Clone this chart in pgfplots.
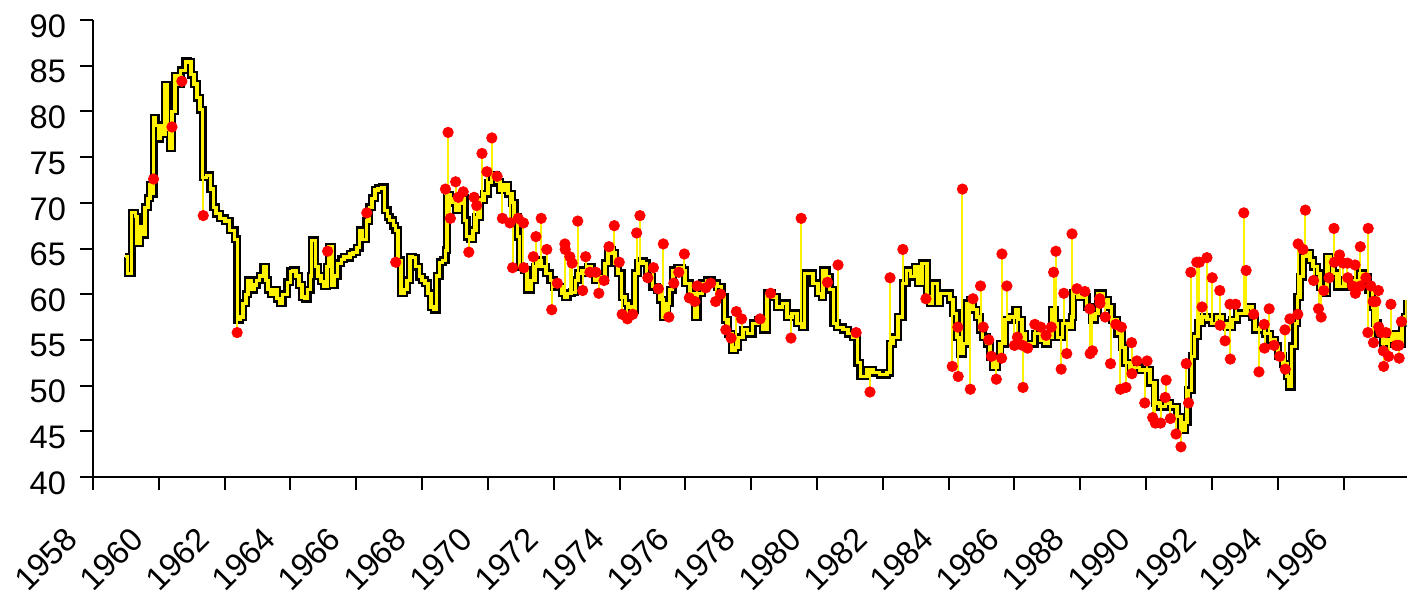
\documentclass[border=0pt]{standalone}
\usepackage{fontspec}
\setmainfont{Liberation Sans}
\usepackage{pgfplots}
\usepackage{pgfplotstable}
\pgfplotsset{compat=1.18}

% cleaned monthly-ish series (step function)
\pgfplotstableread{
year val
1958.97 64.1
1959.06 62.3
1959.18 68.9
1959.28 68.5
1959.34 65.6
1959.43 67.4
1959.52 66.5
1959.58 69.5
1959.67 70.5
1959.73 72.0
1959.79 71.0
1959.85 79.3
1959.91 78.5
1959.98 77.0
1960.04 78.5
1960.10 77.5
1960.19 82.9
1960.25 78.0
1960.34 76.0
1960.40 80.0
1960.49 83.9
1960.58 83.0
1960.67 84.5
1960.80 85.5
1960.89 85.4
1960.98 84.0
1961.07 83.0
1961.16 81.5
1961.25 80.2
1961.33 72.8
1961.46 73.0
1961.56 71.5
1961.65 69.5
1961.74 68.8
1961.86 68.3
1962.01 68.0
1962.16 67.0
1962.31 66.0
1962.38 57.2
1962.47 57.5
1962.56 59.0
1962.65 60.0
1962.71 61.5
1962.80 60.5
1962.89 61.0
1962.98 61.5
1963.07 62.0
1963.17 63.0
1963.26 61.5
1963.32 60.5
1963.41 60.0
1963.50 60.5
1963.59 59.5
1963.68 59.0
1963.77 60.0
1963.90 61.3
1963.99 62.5
1964.08 62.6
1964.17 62.0
1964.26 61.0
1964.35 59.7
1964.44 59.5
1964.53 60.5
1964.62 62.0
1964.65 65.9
1964.75 63.0
1964.84 62.0
1964.93 61.4
1965.02 60.9
1965.11 63.0
1965.17 65.2
1965.26 61.0
1965.35 62.0
1965.44 63.4
1965.54 63.8
1965.63 64.1
1965.72 64.0
1965.81 64.4
1965.90 64.6
1966.02 65.1
1966.11 67.0
1966.20 66.0
1966.30 68.0
1966.39 69.5
1966.48 70.5
1966.57 71.4
1966.66 71.6
1966.78 71.7
1966.87 69.2
1966.96 68.5
1967.02 68.1
1967.12 67.5
1967.18 67.0
1967.27 63.7
1967.36 60.1
1967.45 60.5
1967.54 61.5
1967.63 64.1
1967.72 64.0
1967.81 63.0
1967.91 61.9
1968.00 61.5
1968.09 61.2
1968.18 60.1
1968.27 58.6
1968.36 58.3
1968.45 62.0
1968.54 63.5
1968.63 63.7
1968.72 64.8
1968.76 70.9
1968.85 70.5
1968.94 70.0
1969.03 69.2
1969.12 69.9
1969.21 70.5
1969.30 68.1
1969.36 66.3
1969.46 66.0
1969.55 67.0
1969.64 68.4
1969.76 70.3
1969.88 71.0
1970.00 72.2
1970.12 73.0
1970.25 72.3
1970.37 71.4
1970.49 72.0
1970.61 71.0
1970.73 70.0
1970.82 68.5
1970.91 66.3
1970.97 63.0
1971.10 62.6
1971.19 60.5
1971.31 61.5
1971.43 63.0
1971.52 63.7
1971.64 63.0
1971.76 62.3
1971.89 61.5
1972.01 60.8
1972.13 60.8
1972.25 60.1
1972.34 59.7
1972.43 60.1
1972.55 60.2
1972.65 61.5
1972.74 62.3
1972.86 62.6
1972.95 62.3
1973.04 63.0
1973.16 62.3
1973.25 61.5
1973.34 61.9
1973.47 61.5
1973.56 63.4
1973.65 64.8
1973.77 64.5
1973.86 63.4
1973.95 62.3
1974.07 59.7
1974.17 59.0
1974.26 58.6
1974.38 58.3
1974.47 62.3
1974.56 63.4
1974.65 63.6
1974.74 63.4
1974.83 61.9
1974.99 60.8
1975.14 60.5
1975.23 59.4
1975.32 57.5
1975.44 59.0
1975.53 60.5
1975.62 62.6
1975.75 62.9
1975.90 62.6
1975.99 61.2
1976.14 60.1
1976.29 57.5
1976.38 60.1
1976.51 61.2
1976.66 61.5
1976.81 61.2
1976.96 60.8
1977.11 59.7
1977.20 57.2
1977.30 55.7
1977.42 53.9
1977.51 54.2
1977.60 55.3
1977.75 56.1
1977.90 55.7
1978.05 56.8
1978.21 57.2
1978.36 56.1
1978.48 60.1
1978.63 59.7
1978.78 58.6
1978.94 59.0
1979.09 57.5
1979.24 57.9
1979.39 56.8
1979.54 56.4
1979.63 62.3
1979.79 62.3
1979.88 61.2
1980.03 60.1
1980.15 59.7
1980.18 62.6
1980.30 61.9
1980.39 60.5
1980.49 56.8
1980.61 56.4
1980.79 56.1
1980.94 55.7
1981.09 55.3
1981.22 52.5
1981.31 51.0
1981.52 51.7
1981.70 51.4
1981.91 51.2
1982.13 51.4
1982.22 54.6
1982.31 55.3
1982.46 57.5
1982.61 61.2
1982.73 62.6
1982.83 61.9
1982.98 63.0
1983.07 61.2
1983.19 63.4
1983.28 63.4
1983.34 59.7
1983.43 59.0
1983.52 61.2
1983.65 59.0
1983.74 60.1
1983.89 60.1
1984.04 59.4
1984.13 57.9
1984.25 55.3
1984.34 53.5
1984.44 54.6
1984.56 59.0
1984.65 59.4
1984.74 58.3
1984.86 57.5
1984.95 56.1
1985.04 55.3
1985.16 54.6
1985.26 53.1
1985.35 52.0
1985.47 53.1
1985.56 54.6
1985.71 57.2
1985.86 57.5
1986.02 58.3
1986.11 57.2
1986.23 55.7
1986.32 54.6
1986.47 54.6
1986.62 55.7
1986.78 55.0
1986.93 54.6
1987.02 55.3
1987.14 58.3
1987.23 56.8
1987.32 55.3
1987.47 56.8
1987.63 56.4
1987.75 57.5
1987.78 60.1
1987.93 59.7
1988.08 59.7
1988.20 58.6
1988.36 57.2
1988.45 57.9
1988.54 60.1
1988.69 59.4
1988.84 58.6
1988.96 57.2
1989.12 55.7
1989.27 54.2
1989.36 52.5
1989.51 51.7
1989.66 52.0
1989.81 51.7
1989.97 51.7
1990.12 50.3
1990.27 48.1
1990.42 47.7
1990.58 48.1
1990.73 47.7
1990.94 46.6
1991.06 45.1
1991.18 46.0
1991.27 49.5
1991.39 53.2
1991.48 55.4
1991.58 56.8
1991.70 57.5
1991.85 57.2
1992.00 56.8
1992.15 57.5
1992.31 56.8
1992.46 56.4
1992.61 57.2
1992.76 57.9
1992.91 57.9
1993.07 58.6
1993.22 57.5
1993.31 56.1
1993.46 56.4
1993.61 55.7
1993.77 55.0
1993.92 54.3
1994.01 53.2
1994.16 52.4
1994.28 51.0
1994.34 49.9
1994.43 54.3
1994.53 56.8
1994.59 59.7
1994.68 61.9
1994.77 64.1
1994.89 64.5
1994.98 63.7
1995.07 63.0
1995.20 62.3
1995.29 60.8
1995.38 60.1
1995.50 64.1
1995.59 63.4
1995.68 62.3
1995.80 60.8
1995.89 60.8
1996.05 61.5
1996.20 60.8
1996.35 61.5
1996.50 62.3
1996.65 61.9
1996.75 60.5
1996.87 58.6
1996.96 56.8
1997.05 55.7
1997.20 54.6
1997.35 55.0
1997.51 55.7
1997.66 54.6
1997.78 56.8
1997.87 57.5
1997.92 59.4
}\series

% flagged observations: date, observed value, cleaned value
\pgfplotstableread{
x y b
1959.84 72.6 71.0
1960.40 78.3 78.0
1960.70 83.3 84.0
1961.35 68.6 72.8
1962.38 55.8 57.2
1965.13 64.7 65.0
1966.32 68.9 68.0
1967.20 63.5 64.0
1968.71 71.5 70.9
1968.79 77.7 70.9
1968.86 68.3 70.5
1969.02 72.3 69.5
1969.10 70.6 69.9
1969.25 71.2 70.0
1969.42 64.6 66.3
1969.58 70.6 67.0
1969.66 69.7 68.4
1969.82 75.4 70.5
1969.97 73.4 71.5
1970.12 77.1 73.0
1970.28 72.9 72.3
1970.44 68.3 71.4
1970.67 67.8 71.0
1970.75 62.9 70.0
1970.92 68.3 66.3
1971.08 67.8 63.0
1971.09 62.9 63.0
1971.38 64.1 61.5
1971.46 66.3 63.0
1971.62 68.3 63.7
1971.79 64.9 62.3
1971.94 58.3 61.5
1972.11 61.2 60.8
1972.34 65.5 59.7
1972.35 64.9 59.7
1972.49 64.1 60.1
1972.56 63.4 60.2
1972.73 68.0 61.5
1972.88 60.4 62.6
1972.97 64.1 62.3
1973.10 62.4 63.0
1973.28 62.4 61.5
1973.37 60.1 61.9
1973.53 61.5 61.5
1973.68 65.2 64.8
1973.84 67.5 64.5
1973.99 63.5 62.3
1974.08 57.8 59.7
1974.24 57.3 59.0
1974.40 57.8 58.3
1974.52 66.7 62.3
1974.62 68.6 63.4
1974.86 61.8 61.9
1975.03 62.9 60.8
1975.18 60.6 60.5
1975.33 65.5 57.5
1975.50 57.5 59.0
1975.65 61.2 62.6
1975.80 62.4 62.9
1975.97 64.4 62.6
1976.12 59.6 61.2
1976.29 59.2 57.5
1976.36 60.9 57.5
1976.62 60.7 61.2
1976.77 61.2 61.5
1976.92 59.2 61.2
1977.07 60.0 60.8
1977.23 56.1 57.2
1977.39 55.2 55.7
1977.55 58.1 54.2
1977.71 57.3 55.3
1978.27 57.3 57.2
1978.59 60.1 60.1
1979.21 55.2 57.5
1979.52 68.3 56.4
1980.32 61.3 61.9
1980.64 63.2 56.4
1981.19 55.8 55.3
1981.61 49.3 51.7
1982.22 61.8 54.6
1982.61 64.9 61.2
1983.31 59.5 63.4
1984.11 52.1 59.4
1984.28 56.4 55.3
1984.29 51.0 55.3
1984.42 71.5 53.5
1984.66 49.6 59.4
1984.74 59.5 58.3
1984.97 60.9 56.1
1985.05 56.4 55.3
1985.22 55.0 54.6
1985.30 53.2 53.1
1985.45 50.7 52.0
1985.61 53.0 54.6
1985.62 64.4 54.6
1985.77 60.9 57.2
1986.00 54.4 57.5
1986.09 55.3 58.3
1986.25 54.4 55.7
1986.26 49.8 55.7
1986.40 54.1 54.6
1986.62 56.7 55.7
1986.80 56.4 55.0
1986.96 55.5 54.6
1987.12 56.4 55.3
1987.19 62.4 58.3
1987.26 64.7 56.8
1987.42 51.8 55.3
1987.50 60.1 56.8
1987.59 53.5 56.8
1987.75 66.6 57.5
1987.90 60.6 60.1
1988.14 60.3 59.7
1988.29 58.4 58.6
1988.30 53.5 58.6
1988.37 53.8 57.2
1988.59 59.5 60.1
1988.60 59.0 60.1
1988.76 57.5 59.4
1988.92 52.4 58.6
1989.08 56.7 57.2
1989.22 49.6 55.7
1989.25 56.4 55.7
1989.39 49.8 52.5
1989.56 54.7 51.7
1989.57 51.3 51.7
1989.72 52.7 52.0
1989.96 48.1 51.7
1990.03 52.7 51.7
1990.20 46.5 50.3
1990.28 45.9 48.1
1990.44 45.9 47.7
1990.58 48.7 48.1
1990.61 50.6 48.1
1990.74 46.4 47.7
1990.91 44.7 47.7
1991.06 43.3 45.1
1991.22 52.4 46.0
1991.29 48.1 49.5
1991.36 62.4 49.5
1991.54 63.5 55.4
1991.62 63.5 56.8
1991.70 58.6 57.5
1991.85 64.0 57.2
1992.01 61.8 56.8
1992.24 60.4 57.5
1992.25 56.6 57.5
1992.40 54.9 56.8
1992.55 58.9 56.4
1992.56 52.9 56.4
1992.72 58.9 57.2
1992.97 68.9 57.9
1993.04 62.6 57.9
1993.27 57.8 57.5
1993.43 51.5 56.1
1993.59 56.7 56.4
1993.60 54.1 56.4
1993.74 58.4 55.7
1993.89 54.4 55.0
1994.06 53.2 53.2
1994.22 56.1 52.4
1994.23 51.8 52.4
1994.37 57.3 56.0
1994.61 57.8 59.7
1994.62 65.5 59.7
1994.77 64.9 64.1
1994.84 69.2 64.1
1995.09 61.5 63.0
1995.24 58.4 62.3
1995.32 57.5 60.8
1995.40 60.4 60.1
1995.56 61.8 64.1
1995.71 67.2 62.3
1995.72 63.5 62.3
1995.88 64.3 60.8
1995.99 63.4 60.8
1996.12 63.4 61.5
1996.13 61.8 61.5
1996.27 60.9 60.8
1996.35 63.2 61.5
1996.36 60.1 61.5
1996.51 65.2 62.3
1996.52 60.9 62.3
1996.68 61.8 61.9
1996.74 55.8 60.5
1996.75 67.2 60.5
1996.83 60.9 60.5
1996.90 59.2 58.6
1996.91 54.7 58.6
1996.98 59.2 56.8
1997.06 60.4 55.7
1997.07 56.4 55.7
1997.14 55.8 55.7
1997.21 53.8 54.6
1997.22 52.1 54.6
1997.29 55.8 54.6
1997.37 53.2 55.0
1997.44 58.9 55.0
1997.60 54.4 55.7
1997.68 54.4 54.6
1997.69 53.0 54.6
1997.76 57.0 54.6
}\outliers

\begin{document}
\begin{tikzpicture}
\path[use as bounding box] (-46.5pt,-61.5pt) rectangle (662.5pt,238.5pt);
\begin{axis}[
  at={(0pt,0pt)}, anchor=south west,
  scale only axis, width=656.85pt, height=228.5pt,
  xmin=1958, xmax=1997.92, ymin=40, ymax=90,
  axis x line*=bottom, axis y line*=left,
  axis line style={line width=1pt, black},
  xtick={1958,1960,...,1996}, ytick={40,45,...,90},
  tick align=outside, major tick length=6.5pt,
  tick style={line width=1pt, black},
  scaled x ticks=false,
  /pgf/number format/1000 sep={},
  /pgf/number format/assume math mode=true,
  tick label style={font=\fontsize{16.3}{19}\selectfont},
  yticklabel style={xshift=-3.5pt, yshift=-3pt},
  xticklabel style={anchor=east, inner sep=0pt, xshift=-10.6pt, yshift=-21.6pt, rotate=45},
]
\addplot[const plot, black, line width=4pt, line join=miter] table[x=year, y=val] {\series};
\addplot[const plot, yellow, line width=1.6pt, line join=miter] table[x=year, y=val] {\series};
\addplot[yellow, line width=1pt, quiver={u=0, v=\thisrow{b}-\thisrow{y}}] table[x=x, y=y] {\outliers};
\addplot[only marks, mark=*, mark size=2.6pt, draw=red, fill=red] table[x=x, y=y] {\outliers};
\end{axis}
\end{tikzpicture}
\end{document}
